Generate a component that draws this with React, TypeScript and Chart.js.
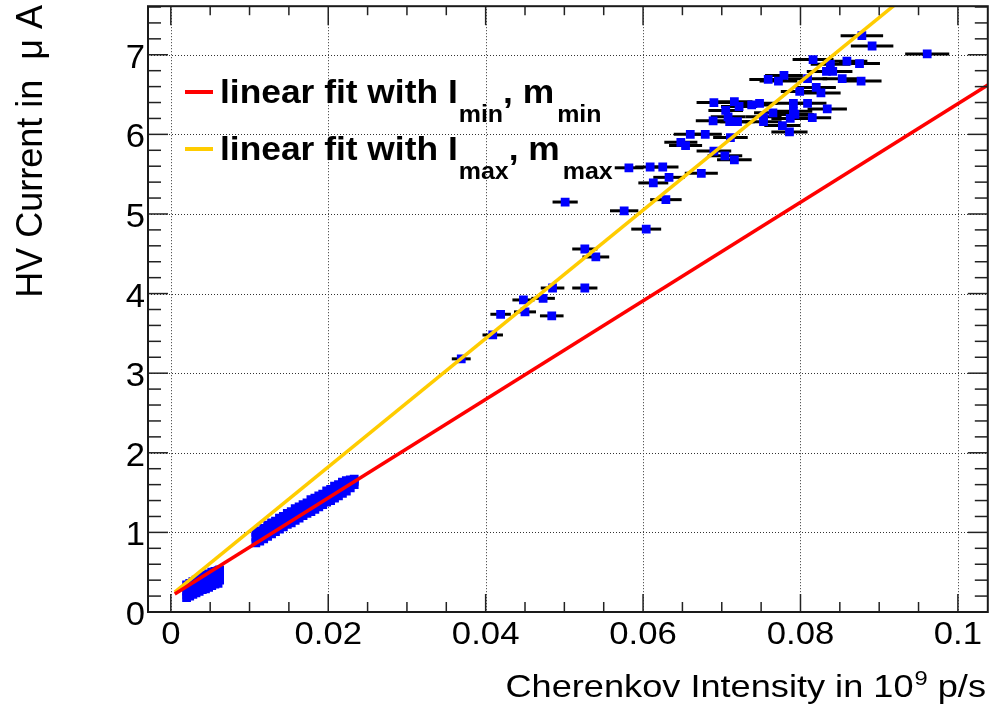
import React, { useEffect, useRef } from 'react';
import { Chart, registerables } from 'chart.js';

Chart.register(...registerables);

// ---------- data ----------
// Isolated measurements (x in 10^9 p/s, y in µA, horizontal error)
const highX = [
  0.0878, 0.0891, 0.0961, 0.0816, 0.0859, 0.0875, 0.0838, 0.0833, 0.0841, 0.0779,
  0.0809, 0.0853, 0.0759, 0.0772, 0.0877, 0.0820, 0.0799, 0.0826, 0.0690, 0.0716,
  0.0748, 0.0738, 0.0722, 0.0791, 0.0809, 0.0834, 0.0705, 0.0765, 0.0791, 0.0793,
  0.0708, 0.0753, 0.0689, 0.0710, 0.0720, 0.0753, 0.0787, 0.0815, 0.0777, 0.0786,
  0.0660, 0.0679, 0.0711, 0.0648, 0.0654, 0.0690, 0.0704, 0.0716, 0.0582, 0.0609,
  0.0625, 0.0633, 0.0613, 0.0674, 0.0629, 0.0576, 0.0501, 0.0604, 0.0526, 0.0540,
  0.0485, 0.0526, 0.0448, 0.0473, 0.0419, 0.0450, 0.0484, 0.0409, 0.0369,
];
const highY = [
  7.24, 7.11, 7.01, 6.94, 6.92, 6.89, 6.88, 6.79, 6.79, 6.74,
  6.70, 6.70, 6.69, 6.67, 6.67, 6.59, 6.54, 6.52, 6.40, 6.41,
  6.39, 6.37, 6.35, 6.39, 6.39, 6.32, 6.30, 6.27, 6.29, 6.25,
  6.22, 6.22, 6.17, 6.16, 6.16, 6.16, 6.20, 6.21, 6.11, 6.03,
  6.00, 6.00, 5.96, 5.90, 5.86, 5.79, 5.73, 5.68, 5.58, 5.59,
  5.59, 5.46, 5.39, 5.51, 5.18, 5.04, 5.15, 4.81, 4.56, 4.46,
  4.07, 4.07, 3.92, 3.94, 3.74, 3.77, 3.72, 3.48, 3.18,
];
const highXErr = [
  0.0027, 0.0027, 0.0028, 0.0026, 0.0026, 0.0026, 0.0025, 0.0025, 0.0025, 0.0024,
  0.0025, 0.0025, 0.0024, 0.0024, 0.0026, 0.0025, 0.0024, 0.0025, 0.0022, 0.0023,
  0.0023, 0.0023, 0.0023, 0.0024, 0.0024, 0.0025, 0.0022, 0.0024, 0.0024, 0.0024,
  0.0022, 0.0023, 0.0022, 0.0022, 0.0022, 0.0023, 0.0024, 0.0024, 0.0023, 0.0023,
  0.0021, 0.0021, 0.0022, 0.0021, 0.0021, 0.0022, 0.0022, 0.0022, 0.0018, 0.0019,
  0.0020, 0.0020, 0.0019, 0.0021, 0.0020, 0.0018, 0.0016, 0.0019, 0.0016, 0.0017,
  0.0015, 0.0016, 0.0014, 0.0015, 0.0013, 0.0014, 0.0015, 0.0013, 0.0012,
];

// Dense band around 0.01 - 0.024
const midX = [
  0.0108, 0.0108, 0.0108, 0.0113, 0.0113, 0.0113, 0.0118, 0.0118, 0.0118,
  0.0123, 0.0123, 0.0123, 0.0128, 0.0128, 0.0128, 0.0133, 0.0133, 0.0133,
  0.0138, 0.0138, 0.0138, 0.0143, 0.0143, 0.0143, 0.0148, 0.0148, 0.0148,
  0.0153, 0.0153, 0.0153, 0.0158, 0.0158, 0.0158, 0.0163, 0.0163, 0.0163,
  0.0168, 0.0168, 0.0168, 0.0173, 0.0173, 0.0173, 0.0178, 0.0178, 0.0178,
  0.0183, 0.0183, 0.0183, 0.0188, 0.0188, 0.0188, 0.0193, 0.0193, 0.0193,
  0.0198, 0.0198, 0.0198, 0.0203, 0.0203, 0.0203, 0.0208, 0.0208, 0.0208,
  0.0213, 0.0213, 0.0213, 0.0218, 0.0218, 0.0218, 0.0223, 0.0223, 0.0223,
  0.0228, 0.0228, 0.0228, 0.0233, 0.0233, 0.0233,
];
const midY = [
  0.87, 0.94, 1.00, 0.89, 0.97, 1.02, 0.92, 1.00, 1.05,
  0.95, 1.02, 1.09, 0.98, 1.05, 1.12, 1.01, 1.08, 1.14,
  1.04, 1.11, 1.18, 1.07, 1.14, 1.20, 1.10, 1.16, 1.24,
  1.12, 1.19, 1.26, 1.15, 1.22, 1.30, 1.18, 1.25, 1.32,
  1.21, 1.28, 1.35, 1.24, 1.30, 1.37, 1.26, 1.33, 1.41,
  1.29, 1.36, 1.43, 1.32, 1.39, 1.46, 1.35, 1.42, 1.48,
  1.38, 1.44, 1.52, 1.40, 1.47, 1.54, 1.43, 1.50, 1.58,
  1.46, 1.53, 1.60, 1.49, 1.56, 1.63, 1.52, 1.58, 1.65,
  1.56, 1.61, 1.66, 1.60, 1.64, 1.67,
];
const midXErr = 0.0004;

// Dense band near the origin
const lowX = [
  0.0020, 0.0020, 0.0020, 0.0024, 0.0024, 0.0024, 0.0028, 0.0028, 0.0028,
  0.0032, 0.0032, 0.0032, 0.0036, 0.0036, 0.0036, 0.0040, 0.0040, 0.0040,
  0.0044, 0.0044, 0.0044, 0.0048, 0.0048, 0.0048, 0.0052, 0.0052, 0.0052,
  0.0056, 0.0056, 0.0056, 0.0060, 0.0060, 0.0060, 0.0062, 0.0062, 0.0062,
];
const lowY = [
  0.18, 0.26, 0.34, 0.20, 0.28, 0.36, 0.22, 0.30, 0.38,
  0.24, 0.32, 0.40, 0.26, 0.34, 0.42, 0.28, 0.36, 0.44,
  0.29, 0.38, 0.46, 0.31, 0.40, 0.48, 0.33, 0.42, 0.50,
  0.35, 0.44, 0.51, 0.36, 0.45, 0.52, 0.40, 0.47, 0.53,
];
const lowXErr = 0.0005;

// Linear fits (end points)
const fitX = [0.0005, 0.1038];
const fitMinY = [0.226, 6.62];
const fitMaxY = [0.25, 8.58];

// Axis ticks
const xTickValues = [0, 0.02, 0.04, 0.06, 0.08, 0.1];
const xTickLabels = ['0', '0.02', '0.04', '0.06', '0.08', '0.1'];
const yTickValues = [0, 1, 2, 3, 4, 5, 6, 7];
const yTickLabels = ['0', '1', '2', '3', '4', '5', '6', '7'];
const xMinorStep = 0.005;
const yMinorStep = 0.2;

const X_MIN = -0.0029;
const X_MAX = 0.1038;
const Y_MIN = 0;
const Y_MAX = 7.61;

// ---------- drawing helpers ----------
const FONT = '"Liberation Sans", Arial, Helvetica, sans-serif';

function drawText(
  ctx: CanvasRenderingContext2D,
  text: string,
  x: number,
  y: number,
  size: number,
  sx: number,
  align: 'left' | 'center' | 'right' = 'left',
  weight = 'normal'
): number {
  ctx.save();
  ctx.font = `${weight} ${size}px ${FONT}`;
  ctx.fillStyle = '#000';
  ctx.textBaseline = 'alphabetic';
  ctx.textAlign = 'left';
  const w = ctx.measureText(text).width * sx;
  let left = x;
  if (align === 'center') left = x - w / 2;
  else if (align === 'right') left = x - w;
  ctx.translate(left, y);
  ctx.scale(sx, 1);
  ctx.fillText(text, 0, 0);
  ctx.restore();
  return w;
}

function measure(ctx: CanvasRenderingContext2D, text: string, size: number, sx: number, weight = 'normal') {
  ctx.save();
  ctx.font = `${weight} ${size}px ${FONT}`;
  const w = ctx.measureText(text).width * sx;
  ctx.restore();
  return w;
}

const rootPlugin = {
  id: 'rootStyle',
  beforeDatasetsDraw(chart: any) {
    const { ctx, chartArea: a } = chart;
    const xs = chart.scales.x;
    const ys = chart.scales.y;
    ctx.save();
    // dotted grid at major ticks
    ctx.strokeStyle = '#333';
    ctx.lineWidth = 1;
    ctx.setLineDash([1, 2]);
    xTickValues.forEach((v) => {
      const px = Math.round(xs.getPixelForValue(v)) + 0.5;
      ctx.beginPath();
      ctx.moveTo(px, a.top);
      ctx.lineTo(px, a.bottom);
      ctx.stroke();
    });
    yTickValues.forEach((v) => {
      const py = Math.round(ys.getPixelForValue(v)) + 0.5;
      ctx.beginPath();
      ctx.moveTo(a.left, py);
      ctx.lineTo(a.right, py);
      ctx.stroke();
    });
    ctx.setLineDash([]);
    // horizontal error bars
    ctx.strokeStyle = '#000';
    ctx.lineWidth = 3;
    chart.data.datasets.forEach((ds: any) => {
      if (ds.label !== 'data') return;
      ds.data.forEach((d: any) => {
        const py = ys.getPixelForValue(d.y);
        ctx.beginPath();
        ctx.moveTo(xs.getPixelForValue(d.x - d.xErr), py);
        ctx.lineTo(xs.getPixelForValue(d.x + d.xErr), py);
        ctx.stroke();
      });
    });
    ctx.restore();
  },
  afterDraw(chart: any) {
    const { ctx, chartArea: a } = chart;
    const xs = chart.scales.x;
    const ys = chart.scales.y;
    ctx.save();
    // ticks
    ctx.strokeStyle = '#222';
    ctx.lineWidth = 1.5;
    const line = (x1: number, y1: number, x2: number, y2: number) => {
      ctx.beginPath();
      ctx.moveTo(x1, y1);
      ctx.lineTo(x2, y2);
      ctx.stroke();
    };
    for (let i = 0; ; i++) {
      const v = i * xMinorStep;
      if (v > X_MAX) break;
      const major = i % 4 === 0;
      const px = xs.getPixelForValue(v);
      line(px, a.bottom, px, a.bottom - (major ? 18 : 10));
      line(px, a.top, px, a.top + (major ? 19 : 9));
    }
    for (let i = 0; ; i++) {
      const v = i * yMinorStep;
      if (v > Y_MAX) break;
      const major = i % 5 === 0;
      const py = ys.getPixelForValue(v);
      line(a.left, py, a.left + (major ? 20 : 13), py);
      line(a.right, py, a.right - (major ? 20 : 13), py);
    }
    // frame
    ctx.lineWidth = 2;
    ctx.strokeStyle = '#1a1a1a';
    ctx.strokeRect(a.left, a.top, a.right - a.left, a.bottom - a.top);

    // tick labels
    xTickValues.forEach((v, i) => {
      drawText(ctx, xTickLabels[i], xs.getPixelForValue(v), a.bottom + 32, 31, 1.12, 'center');
    });
    yTickValues.forEach((v, i) => {
      drawText(ctx, yTickLabels[i], a.left - 3, ys.getPixelForValue(v) + 13, 33, 1.05, 'right');
    });

    // x title
    const tMain = 'Cherenkov Intensity in 10';
    const tSup = '9';
    const tEnd = ' p/s';
    const sxT = 1.13;
    const wMain = measure(ctx, tMain, 32, sxT);
    const wSup = measure(ctx, tSup, 21, sxT);
    const wEnd = measure(ctx, tEnd, 32, sxT);
    let tx = 985 - (wMain + wSup + wEnd);
    tx += drawText(ctx, tMain, tx, 697, 32, sxT);
    tx += drawText(ctx, tSup, tx + 1, 685, 21, sxT) + 1;
    drawText(ctx, tEnd, tx, 697, 32, sxT);

    // y title (rotated)
    ctx.save();
    ctx.font = `normal 36px ${FONT}`;
    ctx.fillStyle = '#000';
    ctx.textAlign = 'right';
    ctx.textBaseline = 'alphabetic';
    ctx.translate(42, 5);
    ctx.scale(1.05, 1);
    ctx.rotate(-Math.PI / 2);
    ctx.fillText('HV Current in  \u03bc A', 0, 0);
    ctx.restore();

    // legend
    const rows = [
      { color: '#ff0000', base: 103, sub: 'min' },
      { color: '#ffcc00', base: 160, sub: 'max' },
    ];
    const sxL = 1.04;
    rows.forEach((r) => {
      ctx.strokeStyle = r.color;
      ctx.lineWidth = 4;
      line(185, r.base - 11, 213, r.base - 11);
      let x = 220;
      x += drawText(ctx, 'linear fit with I', x, r.base, 34, sxL, 'left', 'bold');
      x += 1;
      x += drawText(ctx, r.sub, x, r.base + 19, 24, sxL, 'left', 'bold');
      x += drawText(ctx, ', m', x, r.base, 34, sxL, 'left', 'bold');
      x += 3;
      drawText(ctx, r.sub, x, r.base + 19, 24, sxL, 'left', 'bold');
    });
    ctx.restore();
  },
};

function buildPoints() {
  const pts: { x: number; y: number; xErr: number }[] = [];
  lowX.forEach((x, i) => pts.push({ x, y: lowY[i], xErr: lowXErr }));
  midX.forEach((x, i) => pts.push({ x, y: midY[i], xErr: midXErr }));
  highX.forEach((x, i) => pts.push({ x, y: highY[i], xErr: highXErr[i] }));
  return pts;
}

export default function App() {
  const canvasRef = useRef<HTMLCanvasElement | null>(null);

  useEffect(() => {
    if (!canvasRef.current) return;
    const chart = new Chart(canvasRef.current, {
      type: 'scatter',
      data: {
        datasets: [
          {
            type: 'line',
            label: 'fitMin',
            data: fitX.map((x, i) => ({ x, y: fitMinY[i] })),
            borderColor: '#ff0000',
            borderWidth: 3.5,
            pointRadius: 0,
            fill: false,
          } as any,
          {
            type: 'line',
            label: 'fitMax',
            data: fitX.map((x, i) => ({ x, y: fitMaxY[i] })),
            borderColor: '#ffcc00',
            borderWidth: 3.5,
            pointRadius: 0,
            fill: false,
          } as any,
          {
            type: 'scatter',
            label: 'data',
            data: buildPoints(),
            pointStyle: 'rect',
            pointRadius: 6.2,
            backgroundColor: '#0000ff',
            borderColor: '#0000ff',
            borderWidth: 0,
          } as any,
        ],
      },
      options: {
        animation: false,
        responsive: true,
        maintainAspectRatio: false,
        events: [],
        layout: { padding: { top: 6, right: 6, left: 0, bottom: 0 } },
        plugins: { legend: { display: false }, tooltip: { enabled: false } },
        scales: {
          x: {
            type: 'linear',
            min: X_MIN,
            max: X_MAX,
            ticks: { display: false },
            grid: { display: false },
            border: { display: false },
            afterFit: (s: any) => {
              s.height = 105;
            },
          },
          y: {
            type: 'linear',
            min: Y_MIN,
            max: Y_MAX,
            ticks: { display: false },
            grid: { display: false },
            border: { display: false },
            afterFit: (s: any) => {
              s.width = 148;
            },
          },
        },
      } as any,
      plugins: [rootPlugin as any],
    });
    return () => chart.destroy();
  }, []);

  return (
    <div
      style={{
        position: 'fixed',
        left: 0,
        top: 0,
        width: 994,
        height: 717,
        background: '#fff',
      }}
    >
      <canvas ref={canvasRef} />
    </div>
  );
}
